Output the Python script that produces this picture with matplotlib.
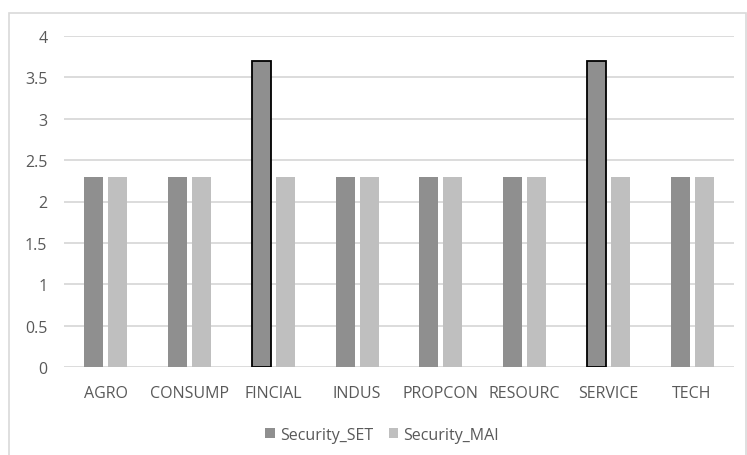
import matplotlib.pyplot as plt
from matplotlib.patches import Rectangle
import numpy as np

sectors = ["AGRO", "CONSUMP", "FINCIAL", "INDUS", "PROPCON", "RESOURC", "SERVICE", "TECH"]
security_set = [2.3, 2.3, 3.7, 2.3, 2.3, 2.3, 3.7, 2.3]
security_mai = [2.3, 2.3, 2.3, 2.3, 2.3, 2.3, 2.3, 2.3]
yticks = [0, 0.5, 1, 1.5, 2, 2.5, 3, 3.5, 4]
ytick_labels = ["0", "0.5", "1", "1.5", "2", "2.5", "3", "3.5", "4"]

plt.rcParams['font.family'] = ['Open Sans', 'DejaVu Sans']

W, H = 747, 456
fig = plt.figure(figsize=(W / 100, H / 100), dpi=100)

# chart frame
fig.patches.append(Rectangle((9 / W, -0.05), (W - 10) / W, (H - 14) / H + 0.05,
                             transform=fig.transFigure, fill=False,
                             edgecolor='#d9d9d9', linewidth=1.2))

ax = fig.add_axes([64 / W, (H - 368) / H, (734 - 64) / W, (368 - 37) / H])

x = np.arange(len(sectors))
w = 0.227
off = 0.143
set_edges = ['black' if v > 3 else '#8f8f8f' for v in security_set]
set_lw = [1.3 if v > 3 else 0 for v in security_set]
ax.bar(x - off, security_set, w, color='#8f8f8f', edgecolor=set_edges,
       linewidth=set_lw, label='Security_SET', zorder=3)
ax.bar(x + off, security_mai, w, color='#bfbfbf', linewidth=0,
       label='Security_MAI', zorder=3)

ax.set_xlim(-0.5, len(sectors) - 0.5)
ax.set_ylim(0, 4)
ax.set_yticks(yticks)
ax.set_yticklabels(ytick_labels)
ax.set_xticks(x)
ax.set_xticklabels(sectors)
ax.grid(axis='y', color='#d9d9d9', linewidth=1.3, zorder=0)
for s in ax.spines.values():
    s.set_visible(False)
ax.tick_params(length=0, labelsize=11.5, colors='#595959', pad=13)
ax.tick_params(axis='y', pad=12)

leg = fig.legend(loc='center', bbox_to_anchor=(382 / W, (H - 436) / H), ncol=2,
                 frameon=False, fontsize=11.5, handlelength=0.6, handleheight=0.6,
                 handletextpad=0.3, columnspacing=1.0)
for t in leg.get_texts():
    t.set_color('#595959')
for h in leg.legend_handles:
    h.set_linewidth(0)

fig.savefig('out.png', dpi=100)
